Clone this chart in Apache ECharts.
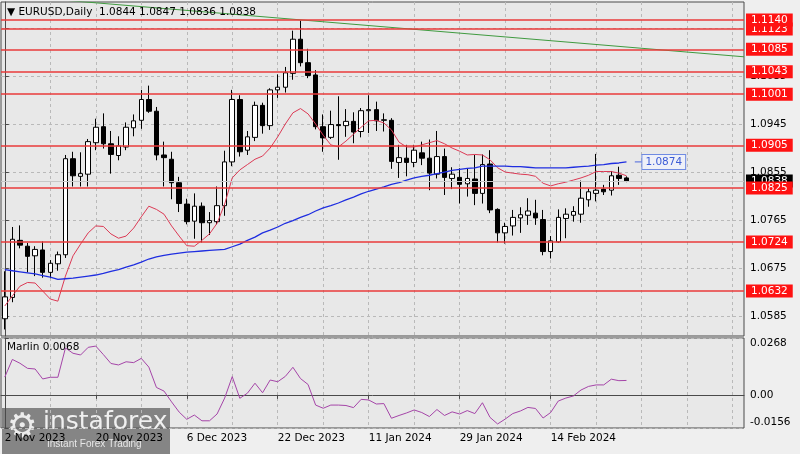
<!DOCTYPE html>
<html><head><meta charset="utf-8">
<script src="https://cdn.jsdelivr.net/npm/echarts@6/dist/echarts.min.js"></script>
<style>html,body{margin:0;padding:0;background:#efefef}#c{width:800px;height:454px}</style>
</head><body><div id="c"></div><script>
const dates = ["2 Nov 2023","3 Nov 2023","6 Nov 2023","7 Nov 2023","8 Nov 2023","9 Nov 2023","10 Nov 2023","13 Nov 2023","14 Nov 2023","15 Nov 2023","16 Nov 2023","17 Nov 2023",
"20 Nov 2023","21 Nov 2023","22 Nov 2023","23 Nov 2023","24 Nov 2023","27 Nov 2023","28 Nov 2023","29 Nov 2023","30 Nov 2023","1 Dec 2023","4 Dec 2023","5 Dec 2023",
"6 Dec 2023","7 Dec 2023","8 Dec 2023","11 Dec 2023","12 Dec 2023","13 Dec 2023","14 Dec 2023","15 Dec 2023","18 Dec 2023","19 Dec 2023","20 Dec 2023","21 Dec 2023",
"22 Dec 2023","26 Dec 2023","27 Dec 2023","28 Dec 2023","29 Dec 2023","2 Jan 2024","3 Jan 2024","4 Jan 2024","5 Jan 2024","8 Jan 2024","9 Jan 2024","10 Jan 2024",
"11 Jan 2024","12 Jan 2024","15 Jan 2024","16 Jan 2024","17 Jan 2024","18 Jan 2024","19 Jan 2024","22 Jan 2024","23 Jan 2024","24 Jan 2024","25 Jan 2024","26 Jan 2024",
"29 Jan 2024","30 Jan 2024","31 Jan 2024","1 Feb 2024","2 Feb 2024","5 Feb 2024","6 Feb 2024","7 Feb 2024","8 Feb 2024","9 Feb 2024","12 Feb 2024","13 Feb 2024",
"14 Feb 2024","15 Feb 2024","16 Feb 2024","19 Feb 2024","20 Feb 2024","21 Feb 2024","22 Feb 2024","23 Feb 2024","26 Feb 2024","27 Feb 2024","28 Feb 2024"];
const emptyBars = 15;

const open = [1.0580,1.0620,1.0727,1.0716,1.0698,1.0709,1.0667,1.0683,1.0700,1.0880,
1.0847,1.0851,1.0910,1.0940,1.0908,1.0886,1.0902,1.0938,1.0952,1.0991,
1.0969,1.0887,1.0879,1.0835,1.0795,1.0763,1.0791,1.0760,1.0762,1.0792,
1.0874,1.0991,1.0896,1.0920,1.0980,1.0942,1.1009,1.1014,1.1040,1.1104,
1.1060,1.1037,1.0940,1.0920,1.0944,1.0942,1.0950,1.0931,1.0970,1.0972,
1.0952,1.0952,1.0873,1.0881,1.0873,1.0891,1.0881,1.0851,1.0884,1.0843,
1.0845,1.0833,1.0842,1.0815,1.0870,1.0785,1.0741,1.0754,1.0769,1.0774,
1.0778,1.0766,1.0706,1.0724,1.0768,1.0774,1.0776,1.0803,1.0815,1.0823,
1.0821,1.0849,1.0844];
const high = [1.0669,1.0752,1.0755,1.0722,1.0716,1.0725,1.0690,1.0706,1.0887,1.0893,
1.0892,1.0917,1.0955,1.0965,1.0932,1.0922,1.0948,1.0963,1.1009,1.1017,
1.0977,1.0912,1.0893,1.0846,1.0805,1.0815,1.0798,1.0780,1.0828,1.0895,
1.1009,1.0999,1.0932,1.0987,1.0985,1.1012,1.1038,1.1052,1.1120,1.1139,
1.1086,1.1046,1.0963,1.0970,1.0997,1.0973,1.0967,1.0975,1.0999,1.0987,
1.0965,1.0956,1.0906,1.0906,1.0906,1.0912,1.0916,1.0932,1.0899,1.0864,
1.0862,1.0862,1.0887,1.0888,1.0896,1.0787,1.0760,1.0784,1.0789,1.0806,
1.0803,1.0784,1.0735,1.0785,1.0787,1.0791,1.0839,1.0824,1.0889,1.0831,
1.0857,1.0865,1.0847];
const low = [1.0560,1.0611,1.0712,1.0667,1.0660,1.0657,1.0656,1.0670,1.0694,1.0828,
1.0828,1.0828,1.0896,1.0899,1.0852,1.0877,1.0896,1.0922,1.0936,1.0966,
1.0877,1.0828,1.0804,1.0780,1.0757,1.0730,1.0723,1.0737,1.0757,1.0773,
1.0866,1.0884,1.0887,1.0913,1.0927,1.0934,1.0994,1.1004,1.1028,1.1053,
1.1031,1.0935,1.0893,1.0917,1.0878,1.0921,1.0909,1.0920,1.0928,1.0932,
1.0931,1.0861,1.0844,1.0847,1.0864,1.0868,1.0821,1.0843,1.0812,1.0823,
1.0796,1.0809,1.0793,1.0796,1.0778,1.0723,1.0721,1.0736,1.0741,1.0756,
1.0756,1.0699,1.0693,1.0722,1.0731,1.0762,1.0760,1.0790,1.0800,1.0812,
1.0811,1.0831,1.0836];
const close = [1.0621,1.0729,1.0718,1.0697,1.0710,1.0667,1.0684,1.0700,1.0880,1.0848,
1.0852,1.0912,1.0939,1.0908,1.0888,1.0904,1.0939,1.0951,1.0991,1.0969,
1.0887,1.0882,1.0835,1.0796,1.0762,1.0791,1.0760,1.0764,1.0792,1.0874,
1.0991,1.0893,1.0921,1.0980,1.0942,1.1009,1.1014,1.1041,1.1104,1.1060,
1.1036,1.0940,1.0919,1.0944,1.0942,1.0950,1.0930,1.0970,1.0972,1.0951,
1.0953,1.0875,1.0882,1.0873,1.0896,1.0881,1.0853,1.0884,1.0845,1.0851,
1.0832,1.0843,1.0815,1.0869,1.0784,1.0741,1.0753,1.0770,1.0775,1.0782,
1.0769,1.0706,1.0726,1.0770,1.0776,1.0781,1.0806,1.0818,1.0821,1.0818,
1.0848,1.0843,1.0838];
const maFast = [1.0604,1.0623,1.0641,1.0648,1.0647,1.0632,1.0617,1.0613,1.0660,1.0698,
1.0720,1.0741,1.0754,1.0753,1.0739,1.0731,1.0735,1.0750,1.0771,1.0791,
1.0785,1.0776,1.0754,1.0735,1.0717,1.0716,1.0727,1.0739,1.0759,1.0795,
1.0844,1.0859,1.0869,1.0879,1.0885,1.0900,1.0921,1.0945,1.0966,1.0974,
1.0964,1.0945,1.0924,1.0906,1.0902,1.0913,1.0926,1.0939,1.0951,1.0952,
1.0947,1.0934,1.0911,1.0902,1.0902,1.0906,1.0910,1.0914,1.0908,1.0900,
1.0894,1.0887,1.0888,1.0887,1.0878,1.0863,1.0855,1.0853,1.0851,1.0850,
1.0847,1.0834,1.0829,1.0833,1.0836,1.0840,1.0844,1.0849,1.0856,1.0856,
1.0856,1.0853,1.0848];
const maSlow = [1.0672,1.0670,1.0668,1.0666,1.0664,1.0661,1.0658,1.0654,1.0655,1.0656,
1.0658,1.0660,1.0662,1.0665,1.0669,1.0672,1.0677,1.0681,1.0686,1.0692,
1.0696,1.0699,1.0701,1.0703,1.0705,1.0706,1.0707,1.0708,1.0709,1.0710,
1.0715,1.0720,1.0727,1.0733,1.0741,1.0746,1.0752,1.0759,1.0764,1.0770,
1.0775,1.0782,1.0788,1.0792,1.0797,1.0803,1.0808,1.0814,1.0819,1.0823,
1.0827,1.0832,1.0835,1.0840,1.0844,1.0847,1.0849,1.0852,1.0855,1.0858,
1.0860,1.0862,1.0863,1.0866,1.0866,1.0866,1.0866,1.0865,1.0865,1.0864,
1.0863,1.0863,1.0863,1.0863,1.0863,1.0864,1.0865,1.0866,1.0868,1.0869,
1.0871,1.0872,1.0874];
const marlin = [0.0084,0.0167,0.0149,0.0125,0.0122,0.0075,0.0083,0.0083,0.0221,0.0196,
0.0188,0.0224,0.0230,0.0190,0.0148,0.0141,0.0156,0.0152,0.0172,0.0131,
0.0035,0.0018,-0.0033,-0.0081,-0.0115,-0.0095,-0.0122,-0.0122,-0.0090,-0.0015,
0.0086,-0.0016,0.0008,0.0055,0.0010,0.0070,0.0062,0.0087,0.0130,0.0077,
0.0049,-0.0048,-0.0063,-0.0048,-0.0048,-0.0050,-0.0060,-0.0021,-0.0024,-0.0043,
-0.0041,-0.0110,-0.0097,-0.0085,-0.0071,-0.0083,-0.0102,-0.0069,-0.0097,-0.0080,
-0.0090,-0.0074,-0.0088,-0.0037,-0.0106,-0.0137,-0.0114,-0.0088,-0.0076,-0.0059,
-0.0064,-0.0109,-0.0083,-0.0029,-0.0015,-0.0005,0.0023,0.0040,0.0047,0.0047,
0.0074,0.0067,0.0068];

const levels = [1.1123,1.1140,1.1085,1.1043,1.1001,1.0905,1.0825,1.0724,1.0632];
const lastPrice = 1.0838;
const priceTicks = [1.0585,1.0675,1.0765,1.0855,1.0945,1.1035,1.1125];
const marlinTicks = [-0.0156,0,0.0268];
const gridBars = [6,12,18,24,30,36,42,48,54,60,66,72,78,84,90,96];
const trendX = [-0.5,97.5];
const trendY = [1.1187,1.1071];
const maTagX = [83.1,84.1];
const maTagValue = 1.0874;
const titleText = '\u25BC EURUSD,Daily  1.0844 1.0847 1.0836 1.0838';
const marlinText = 'Marlin 0.0068';

const cats = dates.concat(Array.from({length: emptyBars}, (_, i) => 'f' + i));
const candles = open.map((o, i) => [o, close[i], low[i], high[i]]);
const FONT = 'DejaVu Sans';
const labelEvery = (i) => i % 12 === 0 && i < dates.length;

const chart = echarts.init(document.getElementById('c'), null, {renderer: 'canvas'});
chart.setOption({
  animation: false,
  backgroundColor: '#efefef',
  textStyle: {fontFamily: FONT},
  title: [
    {text: titleText, left: 7, top: 7, padding: 0, textStyle: {fontSize: 10.5, fontWeight: 'normal', color: '#000', fontFamily: FONT}},
    {text: marlinText, left: 7, top: 342, padding: 0, textStyle: {fontSize: 10.5, fontWeight: 'normal', color: '#000', fontFamily: FONT}}
  ],
  grid: [
    {left: 1, top: 2, width: 743, height: 334, show: true, backgroundColor: '#e8e8e8', borderColor: '#4a4a4a', borderWidth: 1},
    {left: 1, top: 338, width: 743, height: 90, show: true, backgroundColor: '#e8e8e8', borderColor: '#4a4a4a', borderWidth: 1}
  ],
  xAxis: [
    {type: 'category', gridIndex: 0, data: cats, show: false},
    {type: 'category', gridIndex: 1, data: cats, boundaryGap: true,
     axisLine: {show: true, lineStyle: {color: '#4a4a4a'}},
     axisTick: {show: true, alignWithLabel: true, interval: labelEvery, length: 4, lineStyle: {color: '#4a4a4a'}},
     axisLabel: {interval: labelEvery, align: 'left', margin: 5, color: '#000', fontSize: 10.5, fontFamily: FONT},
     splitLine: {show: false}},
    {type: 'value', gridIndex: 0, min: -0.5, max: 97.5,
     axisLine: {show: false}, axisLabel: {show: false, customValues: gridBars},
     axisTick: {show: false, customValues: gridBars},
     splitLine: {show: true, lineStyle: {color: '#b9b9b9', type: [3, 3], width: 1}}},
    {type: 'value', gridIndex: 1, min: -0.5, max: 97.5,
     axisLine: {show: false}, axisLabel: {show: false, customValues: gridBars},
     axisTick: {show: false, customValues: gridBars},
     splitLine: {show: true, lineStyle: {color: '#b9b9b9', type: [3, 3], width: 1}}}
  ],
  yAxis: [
    {type: 'value', gridIndex: 0, position: 'right', min: 1.054769, max: 1.117374, scale: true,
     axisLine: {show: true, lineStyle: {color: '#4a4a4a'}},
     axisTick: {show: true, length: 4, customValues: priceTicks, lineStyle: {color: '#4a4a4a'}},
     axisLabel: {customValues: priceTicks, margin: 6, color: '#000', fontSize: 10.5, fontFamily: FONT, formatter: v => v.toFixed(4)},
     splitLine: {show: true, lineStyle: {color: '#b9b9b9', type: [3, 3], width: 1}}},
    {type: 'value', gridIndex: 1, position: 'right', min: -0.0156, max: 0.0268,
     axisLine: {show: true, lineStyle: {color: '#4a4a4a'}},
     axisTick: {show: true, length: 4, customValues: marlinTicks, lineStyle: {color: '#4a4a4a'}},
     axisLabel: {customValues: marlinTicks, margin: 6, color: '#000', fontSize: 10.5, fontFamily: FONT,
       verticalAlignMinLabel: 'bottom', verticalAlignMaxLabel: 'top',
       formatter: v => v === 0 ? '0.00' : v.toFixed(4)},
     splitLine: {show: true, lineStyle: {color: '#b9b9b9', type: [3, 3], width: 1}}}
  ],
  series: [
    {type: 'candlestick', xAxisIndex: 0, yAxisIndex: 0, data: candles, barWidth: 5,
     itemStyle: {color: '#ffffff', color0: '#000000', borderColor: '#000000', borderColor0: '#000000', borderWidth: 1},
     markLine: {
       silent: true, symbol: ['none', 'none'], animation: false, precision: 4,
       lineStyle: {color: '#ea3b3b', width: 1.5, type: 'solid'},
       label: {show: true, position: 'end', distance: 2, formatter: p => Number(p.value).toFixed(4),
         backgroundColor: '#ff1212', color: '#ffffff', fontSize: 10.5, fontFamily: FONT, padding: [1, 5, 0, 5], lineHeight: 12},
       data: [{yAxis: lastPrice, lineStyle: {color: '#c8c8c8', width: 1}, label: {backgroundColor: '#000000'}}]
         .concat(levels.map(v => ({yAxis: v})))
     }},
    {type: 'line', xAxisIndex: 0, yAxisIndex: 0, data: maFast, showSymbol: false, symbol: 'none',
     lineStyle: {color: '#dc3a55', width: 1}},
    {type: 'line', xAxisIndex: 0, yAxisIndex: 0, data: maSlow, showSymbol: false, symbol: 'none',
     lineStyle: {color: '#1f2ee0', width: 1.3}},
    {type: 'line', xAxisIndex: 2, yAxisIndex: 0, data: trendX.map((x, i) => [x, trendY[i]]), showSymbol: false, symbol: 'none',
     lineStyle: {color: '#3f9a3f', width: 1}, clip: true},
    {type: 'line', xAxisIndex: 2, yAxisIndex: 0, data: maTagX.map(x => [x, maTagValue]), showSymbol: false, symbol: 'none',
     lineStyle: {color: '#4a66dd', width: 1},
     endLabel: {show: true, formatter: () => maTagValue.toFixed(4), distance: 0, color: '#3b5bd6', fontSize: 10.5, fontFamily: FONT,
       borderColor: '#6f8ae2', borderWidth: 1, backgroundColor: '#eef0f8', padding: [2, 3, 1, 3]}},
    {type: 'line', xAxisIndex: 1, yAxisIndex: 1, data: marlin, showSymbol: false, symbol: 'none',
     lineStyle: {color: '#a545a8', width: 1}}
  ],
  graphic: [
    {type: 'group', left: 2, top: 408, children: [
      {type: 'rect', shape: {x: 0, y: 0, width: 168, height: 46}, style: {fill: 'rgba(96,96,96,0.74)'}},
      {type: 'text', x: 5, y: 3, style: {text: '\u2699', font: '34px "DejaVu Sans"', fill: 'rgba(255,255,255,0.85)'}},
      {type: 'text', x: 41, y: 2, style: {text: 'instaforex', font: '25px "DejaVu Sans"', fill: 'rgba(255,255,255,0.88)'}},
      {type: 'text', x: 45, y: 31, style: {text: 'Instant Forex Trading', font: '10px "Liberation Sans"', fill: 'rgba(255,255,255,0.8)'}}
    ]}
  ]
});
</script></body></html>
